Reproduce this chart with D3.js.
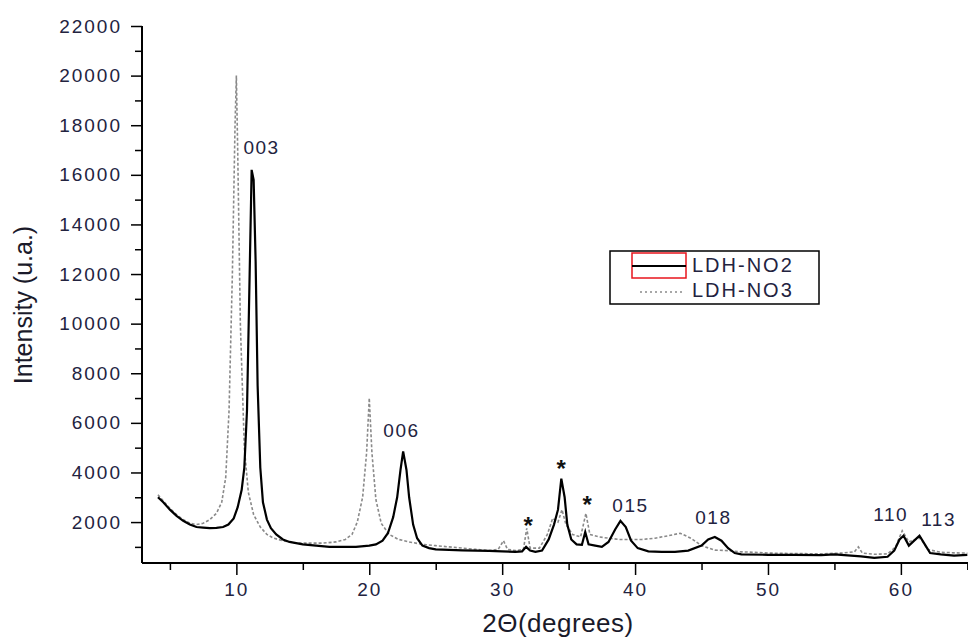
<!DOCTYPE html>
<html>
<head>
<meta charset="utf-8">
<script src="https://cdn.jsdelivr.net/npm/d3@7"></script>
<style>
  body { margin: 0; background: #fff; }
  svg { display: block; font-family: "Liberation Sans", Arial, sans-serif; }
</style>
</head>
<body>
<svg id="chart"></svg>
<script>

var width = 968;
var height = 641;

// LDH-NO2 (solid black) : [2theta, intensity]
var ldhNO2 = [
  [4.1,3000],[4.5,2800],[5,2500],[5.5,2250],[6,2050],[6.5,1900],[7,1800],[7.5,1780],
  [8,1760],[8.5,1770],[9,1800],[9.4,1900],[9.8,2150],[10.1,2600],[10.4,3300],[10.6,4200],
  [10.8,6500],[11.0,12000],[11.15,16200],[11.3,15800],[11.45,12500],[11.6,7500],[11.8,4200],
  [12.0,2800],[12.3,2100],[12.6,1750],[13,1500],[13.5,1300],[14,1200],[15,1100],[16,1050],
  [17,1000],[18,1000],[19,1000],[20,1050],[20.5,1100],[21,1250],[21.4,1550],[21.8,2200],
  [22.1,3000],[22.35,4100],[22.55,4850],[22.8,4100],[23.0,3000],[23.3,1900],[23.6,1350],
  [24,1050],[24.5,950],[25,900],[26,880],[27,860],[28,850],[29,840],[30,820],[31,800],
  [31.5,820],[31.8,1000],[32.1,850],[32.5,800],[33,850],[33.5,1300],[33.9,1900],[34.2,2500],
  [34.45,3750],[34.7,3000],[34.9,1900],[35.2,1300],[35.6,1100],[36,1080],[36.25,1600],
  [36.5,1100],[37,1050],[37.5,1000],[38,1200],[38.5,1700],[38.9,2050],[39.3,1800],
  [39.7,1250],[40.2,950],[41,820],[42,800],[43,800],[44,850],[45,1050],[45.5,1300],
  [46,1400],[46.5,1250],[47,950],[47.5,750],[48,700],[50,680],[52,680],[54,670],[55,700],
  [56,660],[57,620],[58,560],[59,600],[59.5,850],[59.9,1300],[60.2,1450],[60.6,1050],
  [61.0,1250],[61.4,1450],[61.8,1100],[62.2,750],[63,700],[64,650],[65,680]
];

// LDH-NO3 (dotted grey)
var ldhNO3 = [
  [4.1,3100],[4.5,2850],[5,2550],[5.5,2300],[6,2100],[6.5,1950],[7,1900],[7.5,1950],
  [8,2100],[8.5,2350],[8.9,2800],[9.2,3800],[9.45,6500],[9.7,12000],[9.9,18000],[10.0,20000],
  [10.1,17000],[10.3,10000],[10.6,5000],[10.9,3200],[11.3,2300],[11.8,1800],[12.3,1500],
  [12.8,1350],[13.5,1250],[14.5,1150],[15.5,1150],[16.5,1150],[17.5,1200],[18.2,1300],
  [18.7,1500],[19.1,2000],[19.5,3000],[19.8,4800],[20.0,7000],[20.2,4800],[20.5,2900],
  [20.9,1950],[21.5,1500],[22.2,1300],[23,1200],[24,1100],[25,1050],[26,1000],[27,950],
  [28,900],[29,850],[29.7,900],[30.1,1250],[30.4,900],[31,850],[31.6,900],[31.85,1750],
  [32.1,950],[32.8,950],[33.4,1500],[33.8,2150],[34.2,2000],[34.5,2500],[34.8,1900],
  [35.3,1500],[35.9,1400],[36.3,2350],[36.6,1500],[37.3,1400],[38,1350],[38.8,1300],
  [39.5,1300],[40.5,1300],[41.5,1350],[42.5,1450],[43.4,1550],[44.2,1350],[45,1050],
  [46,870],[47,850],[48,800],[49,780],[50,750],[52,730],[54,720],[55.5,750],[56.5,800],
  [56.8,1000],[57.1,750],[58,700],[59,720],[59.6,1000],[60.1,1650],[60.6,1200],[61.1,1300],
  [61.5,1350],[62,900],[63,780],[64,760],[65,750]
];

var xMajorTicks = [10, 20, 30, 40, 50, 60];
var xMinorTicks = [5, 15, 25, 35, 45, 55, 65];
var yMajorTicks = [2000, 4000, 6000, 8000, 10000, 12000, 14000, 16000, 18000, 20000, 22000];
var yMinorTicks = [1000, 3000, 5000, 7000, 9000, 11000, 13000, 15000, 17000, 19000, 21000];

// peak labels: text, 2theta, intensity (anchor of label)
var peakLabels = ["003", "006", "015", "018", "110", "113"];
var peakX = [10.53, 21.06, 38.29, 44.53, 57.92, 61.53];
var peakY = [16840, 5430, 2406, 1922, 2043, 1842];

// impurity stars
var starX = [31.95, 34.43, 36.39];
var starY = [2084, 4382, 2930];

var seriesNames = ["LDH-NO2", "LDH-NO3"];

var svg = d3.select("#chart")
  .attr("width", width)
  .attr("height", height);

var x = d3.scaleLinear()
  .domain([2.9, 65.05])
  .range([142, 968]);

var y = d3.scaleLinear()
  .domain([350, 22000])
  .range([563, 26]);

var textColor = "#23233f";

// axes
var xMinor = svg.append("g")
  .attr("transform", "translate(0,563)")
  .call(d3.axisBottom(x).tickValues(xMinorTicks).tickSize(7).tickFormat(""));

var xAxis = svg.append("g")
  .attr("transform", "translate(0,563)")
  .call(d3.axisBottom(x).tickValues(xMajorTicks).tickSize(12).tickPadding(8).tickFormat(d3.format("d")));

var yMinor = svg.append("g")
  .attr("transform", "translate(142,0)")
  .call(d3.axisLeft(y).tickValues(yMinorTicks).tickSize(7).tickFormat(""));

var yAxis = svg.append("g")
  .attr("transform", "translate(142,0)")
  .call(d3.axisLeft(y).tickValues(yMajorTicks).tickSize(11).tickPadding(9).tickFormat(d3.format("d")));

[xMinor, xAxis, yMinor, yAxis].forEach(function(g) {
  g.select(".domain").attr("stroke", "#000").attr("stroke-width", 2);
  g.selectAll(".tick line").attr("stroke", "#000").attr("stroke-width", 1.5);
  g.selectAll(".tick text")
    .attr("fill", textColor)
    .style("font-size", "19px")
    .style("letter-spacing", "2px");
});

// x axis line goes to the window edge; y axis from 350 up
xAxis.select(".domain").attr("d", "M142,0H968");
xMinor.select(".domain").remove();
yMinor.select(".domain").remove();
yAxis.select(".domain").attr("d", "M0,563V26");

// lines
var line = d3.line()
  .x(function(d) { return x(d[0]); })
  .y(function(d) { return y(d[1]); });

svg.append("path")
  .datum(ldhNO3)
  .attr("d", line)
  .attr("fill", "none")
  .attr("stroke", "#8a8a8a")
  .attr("stroke-width", 1.6)
  .attr("stroke-dasharray", "3,2");

svg.append("path")
  .datum(ldhNO2)
  .attr("d", line)
  .attr("fill", "none")
  .attr("stroke", "#000")
  .attr("stroke-width", 2.2);

// peak labels
svg.selectAll(".peak")
  .data(peakLabels)
  .enter().append("text")
  .attr("class", "peak")
  .attr("x", function(d, i) { return x(peakX[i]); })
  .attr("y", function(d, i) { return y(peakY[i]); })
  .attr("fill", textColor)
  .style("font-size", "19px")
  .style("letter-spacing", "1.5px")
  .text(function(d) { return d; });

svg.selectAll(".star")
  .data(starX)
  .enter().append("text")
  .attr("class", "star")
  .attr("x", function(d) { return x(d); })
  .attr("y", function(d, i) { return y(starY[i]); })
  .attr("dy", "0.6em")
  .attr("text-anchor", "middle")
  .attr("fill", "#111")
  .style("font-size", "24px")
  .style("font-weight", "bold")
  .text("*");

// axis titles
svg.append("text")
  .attr("x", 558)
  .attr("y", 632)
  .attr("text-anchor", "middle")
  .attr("fill", "#1a1a2a")
  .style("font-size", "26px")
  .style("letter-spacing", "0.5px")
  .text("2\u0398(degrees)");

svg.append("text")
  .attr("transform", "translate(32,305) rotate(-90)")
  .attr("text-anchor", "middle")
  .attr("fill", "#1a1a2a")
  .style("font-size", "25px")
  .text("Intensity (u.a.)");

// legend
var legend = svg.append("g");

legend.append("rect")
  .attr("x", 610).attr("y", 251)
  .attr("width", 209).attr("height", 53)
  .attr("fill", "#fff")
  .attr("stroke", "#000")
  .attr("stroke-width", 1.5);

legend.append("rect")
  .attr("x", 632).attr("y", 253)
  .attr("width", 54).attr("height", 25)
  .attr("fill", "none")
  .attr("stroke", "#e8141c")
  .attr("stroke-width", 1.5);

legend.append("line")
  .attr("x1", 632).attr("x2", 686)
  .attr("y1", 266).attr("y2", 266)
  .attr("stroke", "#000")
  .attr("stroke-width", 2);

legend.append("line")
  .attr("x1", 640).attr("x2", 684)
  .attr("y1", 292).attr("y2", 292)
  .attr("stroke", "#8a8a8a")
  .attr("stroke-width", 1.5)
  .attr("stroke-dasharray", "2,3");

legend.selectAll(".leg")
  .data(seriesNames)
  .enter().append("text")
  .attr("class", "leg")
  .attr("x", 692)
  .attr("y", function(d, i) { return 272 + i * 25; })
  .attr("fill", textColor)
  .style("font-size", "20px")
  .style("letter-spacing", "2px")
  .text(function(d) { return d; });

</script>
</body>
</html>
